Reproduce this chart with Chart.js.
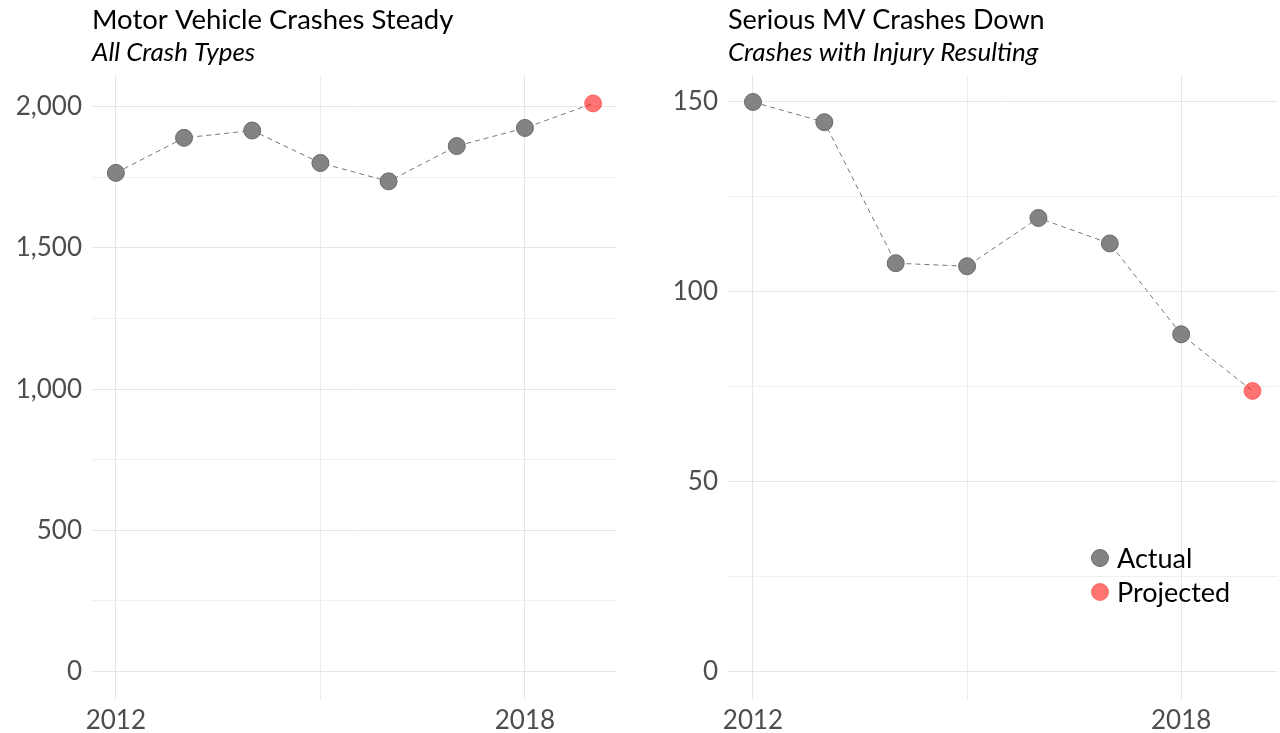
<!DOCTYPE html>
<html>
<head>
<meta charset="utf-8">
<script src="https://cdn.jsdelivr.net/npm/chart.js@4.4.1/dist/chart.umd.min.js"></script>
<style>
  html, body { margin: 0; padding: 0; background: #fff; overflow: hidden; }
  .panel { position: absolute; top: 0; height: 733px; }
  canvas { display: block; }
</style>
</head>
<body>
<div class="panel" style="left:0;width:640px"><canvas id="allCrashChart" width="640" height="733"></canvas></div>
<div class="panel" style="left:640px;width:647px"><canvas id="injuryChart" width="647" height="733"></canvas></div>
<script>
const years = [2012, 2013, 2014, 2015, 2016, 2017, 2018];
const projectedYear = 2019;

const allCrashes = [1766, 1890, 1916, 1801, 1736, 1861, 1925];
const allCrashesProjected = 2012;

const injuryCrashes = [149.8, 144.5, 107.4, 106.6, 119.3, 112.6, 88.7];
const injuryCrashesProjected = 73.8;

const yearTicks = [2012, 2015, 2018];
const yearLabels = [2012, 2018];

const allCrashTicks = [0, 250, 500, 750, 1000, 1250, 1500, 1750, 2000];
const allCrashLabels = [0, 500, 1000, 1500, 2000];

const injuryTicks = [0, 25, 50, 75, 100, 125, 150];
const injuryLabels = [0, 50, 100, 150];

const legendLabels = ['Actual', 'Projected'];

const FONT = 'Lato, "Open Sans", sans-serif';
const ACTUAL_FILL = '#838383';
const ACTUAL_EDGE = '#6a6a6a';
const PROJ_FILL = 'rgba(255,0,0,0.55)';
const PROJ_EDGE = 'rgba(255,60,60,0.6)';

const titlePlugin = {
    id: 'ggTitle',
    afterDraw(chart, args, opts) {
        const ctx = chart.ctx;
        const x = chart.chartArea.left + opts.dx;
        ctx.save();
        ctx.fillStyle = '#000';
        ctx.textBaseline = 'alphabetic';
        ctx.textAlign = 'left';
        ctx.font = opts.titleSize + 'px ' + FONT;
        ctx.fillText(opts.title, x, 29);
        ctx.font = 'italic 26px ' + FONT;
        ctx.fillText(opts.subtitle, x, 61);
        ctx.restore();
    }
};

const legendPlugin = {
    id: 'ggLegend',
    afterDraw(chart, args, opts) {
        if (!opts.show) return;
        const ctx = chart.ctx;
        const fills = [ACTUAL_FILL, PROJ_FILL];
        const edges = [ACTUAL_EDGE, PROJ_EDGE];
        ctx.save();
        legendLabels.forEach((lab, i) => {
            const y = opts.y + i * 34;
            ctx.beginPath();
            ctx.arc(opts.x, y, 8.5, 0, Math.PI * 2);
            ctx.fillStyle = fills[i];
            ctx.fill();
            ctx.strokeStyle = edges[i];
            ctx.lineWidth = 1;
            ctx.stroke();
            ctx.fillStyle = '#000';
            ctx.font = '27px ' + FONT;
            ctx.textBaseline = 'middle';
            ctx.fillText(lab, opts.x + 17, y + 1);
        });
        ctx.restore();
    }
};

function noPad(s) {
    s.paddingLeft = 0;
    s.paddingRight = 0;
    s.paddingTop = 0;
    s.paddingBottom = 0;
}

function makeChart(id, values, projected, yTicks, yLabels, yMin, yMax, cfg) {
    const actualPts = years.map((yr, i) => ({ x: yr, y: values[i] }));
    const projPt = [{ x: projectedYear, y: projected }];
    const linePts = actualPts.concat(projPt);

    return new Chart(document.getElementById(id).getContext('2d'), {
        type: 'scatter',
        data: {
            datasets: [
                {
                    label: legendLabels[0],
                    data: actualPts,
                    pointRadius: 8.5,
                    backgroundColor: ACTUAL_FILL,
                    borderColor: ACTUAL_EDGE,
                    borderWidth: 1,
                    order: 1
                },
                {
                    label: legendLabels[1],
                    data: projPt,
                    pointRadius: 8.5,
                    backgroundColor: PROJ_FILL,
                    borderColor: PROJ_EDGE,
                    borderWidth: 1,
                    order: 1
                },
                {
                    label: 'trend',
                    data: linePts,
                    showLine: true,
                    pointRadius: 0,
                    borderColor: '#777',
                    borderWidth: 1,
                    borderDash: [5, 4],
                    order: 3
                }
            ]
        },
        options: {
            responsive: false,
            animation: false,
            layout: { padding: { top: 75, right: cfg.padRight, left: 0, bottom: 0 } },
            plugins: {
                legend: { display: false },
                tooltip: { enabled: false },
                ggTitle: { title: cfg.title, subtitle: cfg.subtitle, dx: 0, titleSize: cfg.titleSize },
                ggLegend: { show: cfg.legend, x: 460, y: 558 }
            },
            scales: {
                x: {
                    type: 'linear',
                    min: 2011.65,
                    max: 2019.35,
                    afterBuildTicks: s => { s.ticks = yearTicks.map(v => ({ value: v })); },
                    afterFit: s => { s.height = 33; noPad(s); },
                    border: { display: false },
                    grid: {
                        drawTicks: false,
                        lineWidth: 1,
                        color: c => yearLabels.includes(c.tick && c.tick.value) ? '#e6e6e6' : '#ebebeb'
                    },
                    ticks: {
                        autoSkip: false,
                        maxRotation: 0,
                        padding: 5,
                        color: '#4d4d4d',
                        font: { family: FONT, size: 26 },
                        callback: v => yearLabels.includes(v) ? String(v) : ''
                    }
                },
                y: {
                    min: yMin,
                    max: yMax,
                    afterBuildTicks: s => { s.ticks = yTicks.map(v => ({ value: v })); },
                    afterFit: s => { s.width = cfg.yWidth; noPad(s); },
                    border: { display: false },
                    grid: {
                        drawTicks: false,
                        lineWidth: 1,
                        color: c => yLabels.includes(c.tick && c.tick.value) ? '#e6e6e6' : '#efefef'
                    },
                    ticks: {
                        autoSkip: false,
                        padding: 10,
                        color: '#4d4d4d',
                        font: { family: FONT, size: 26 },
                        callback: v => yLabels.includes(v) ? v.toLocaleString('en-US') : ''
                    }
                }
            }
        },
        plugins: [titlePlugin, legendPlugin]
    });
}

makeChart('allCrashChart', allCrashes, allCrashesProjected, allCrashTicks, allCrashLabels, -100.6, 2112.6, {
    title: 'Motor Vehicle Crashes Steady',
    subtitle: 'All Crash Types',
    titleSize: 27.5,
    padRight: 23,
    yWidth: 92,
    legend: false
});

makeChart('injuryChart', injuryCrashes, injuryCrashesProjected, injuryTicks, injuryLabels, -7.47, 156.9, {
    title: 'Serious MV Crashes Down',
    subtitle: 'Crashes with Injury Resulting',
    titleSize: 27,
    padRight: 3,
    yWidth: 88,
    legend: true
});
</script>
</body>
</html>
